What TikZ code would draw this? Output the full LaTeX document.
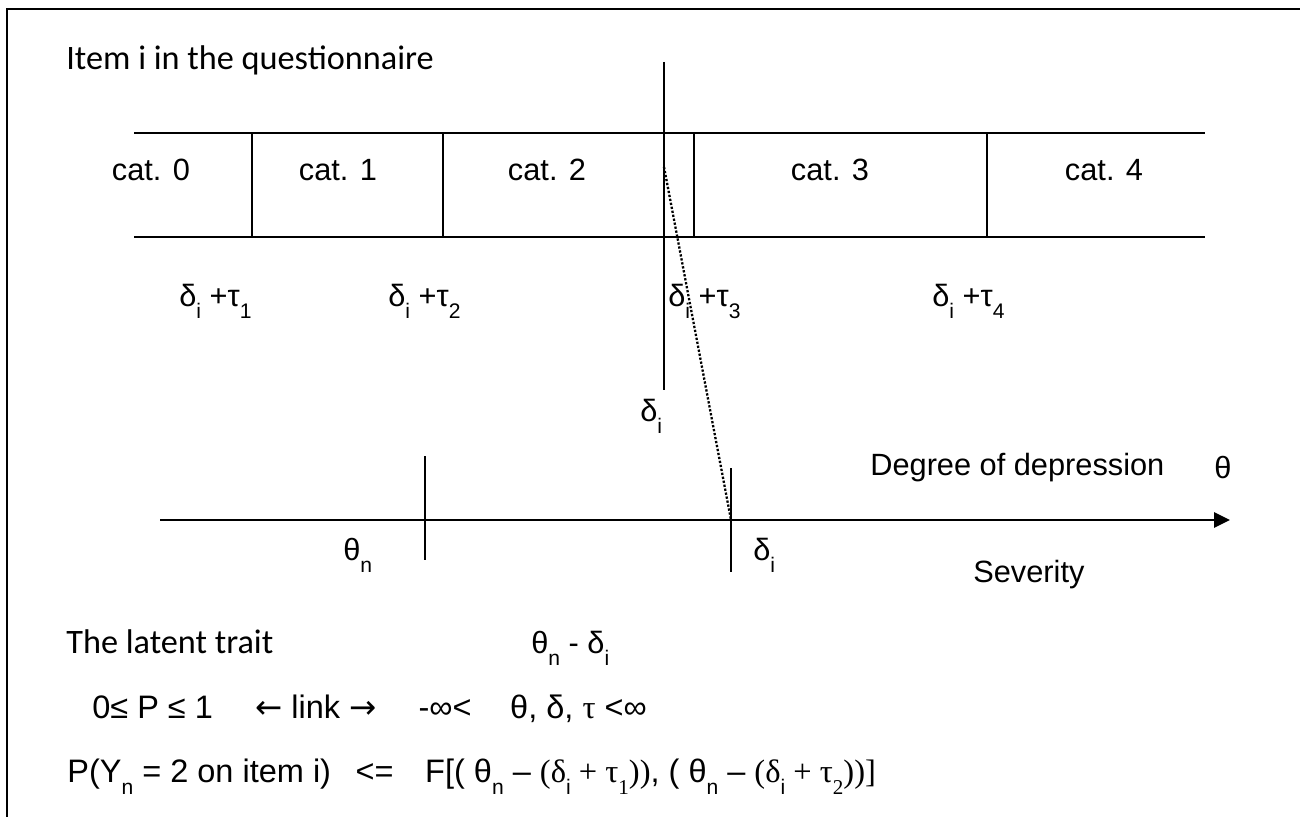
\documentclass[tikz,border=0pt]{standalone}
\usepackage{fontspec}
\setmainfont{Liberation Sans}
\newfontfamily\calfont{Carlito}
\newfontfamily\tmsfont{Liberation Serif}
\newfontfamily\arrfont{DejaVu Sans}
\usetikzlibrary{arrows.meta}

% lowered small index, as in the drawing
\newcommand{\low}[1]{\raisebox{-7pt}{\fontsize{12}{12}\selectfont #1}}

\begin{document}
\begin{tikzpicture}[
  x=0.02cm, y=-0.02cm,
  every node/.style={font=\fontsize{17.5}{20}\selectfont, inner sep=0pt},
  lbl/.style={anchor=base west},
  catlbl/.style={anchor=base},
  eqn/.style={anchor=base west, font=\fontsize{18.5}{21}\selectfont},
  ttl/.style={anchor=base west, font=\calfont\fontsize{19.5}{23}\selectfont},
  ln/.style={line width=1pt},
  axis/.style={line width=1.3pt, -{Triangle[length=9pt, width=8.5pt]}}
]
\useasboundingbox (0,0) rectangle (1300,817);
\draw[line width=1.6pt] (7,817) -- (7,9) -- (1300,9);

%% ---- ITEM AND ITS CATEGORIES -------------------------------------
\node[ttl] (title) at (66,70) {Item i in the questionnaire};

\draw[ln] (134,133) -- (1205,133);
\draw[ln] (134,237) -- (1205,237);
\foreach \x in {252,443,694,987}
  \draw[ln] (\x,133) -- (\x,237);

\node[catlbl] (c0) at (151,181)  {cat. 0};
\node[catlbl] (c1) at (338,181)  {cat. 1};
\node[catlbl] (c2) at (547,181)  {cat. 2};
\node[catlbl] (c3) at (830,181)  {cat. 3};
\node[catlbl] (c4) at (1104,181) {cat. 4};

\node[lbl] (t1) at (179,306) {δ\low{i} +τ\low{1}};
\node[lbl] (t2) at (388,306) {δ\low{i} +τ\low{2}};
\node[lbl] (t3) at (668,306) {δ\low{i} +τ\low{3}};
\node[lbl] (t4) at (932,306) {δ\low{i} +τ\low{4}};

%% item location
\coordinate (itop) at (664,62);
\coordinate (ibot) at (664,390);
\coordinate (imid) at (664,167);
\draw[ln] (itop) -- (ibot);
\node[lbl] (dup) at (640,421) {δ\low{i}};

%% ---- LATENT AXIS ----------------------------------------------------
\coordinate (ax0) at (160,520);
\coordinate (ax1) at (1230,520);
\draw[axis] (ax0) -- (ax1);

\coordinate (pn) at (425,520);
\coordinate (pd) at (731,520);
\draw[ln] (425,456) -- (425,560);
\draw[ln] (731,468) -- (731,572);
\draw[line width=1.3pt, densely dotted] (imid) -- (pd);

\node[lbl] (deg) at (870,475)  {Degree of depression};
\node[lbl] (th)  at (1214,478) {θ};
\node[lbl] (thn) at (343,560)  {θ\low{n}};
\node[lbl] (dlo) at (753,560)  {δ\low{i}};
\node[lbl] (sev) at (973,582)  {Severity};

%% ---- MODEL ----------------------------------------------------------
\node[ttl] (lat)  at (66,653)  {The latent trait};
\node[lbl] (diff) at (531,653) {θ\low{n} - δ\low{i}};

\node[eqn] (link) at (92,718)
  {0≤ P ≤ 1\hspace{24pt}{\arrfont ←} link {\arrfont →}\hspace{24pt}-∞<\hspace{22pt}θ, δ, {\tmsfont τ} <∞};
\node[eqn] (prob) at (67,782)
  {P(Y\low{n} = 2 on item i)\hspace{14pt}<=\hspace{18pt}F[( θ\low{n} – {\tmsfont(δ}\low{i}{\tmsfont\ + τ}\low{\tmsfont 1}{\tmsfont ))}, ( θ\low{n} – {\tmsfont(δ}\low{i}{\tmsfont\ + τ}\low{\tmsfont 2}{\tmsfont ))]}};

\end{tikzpicture}
\end{document}
